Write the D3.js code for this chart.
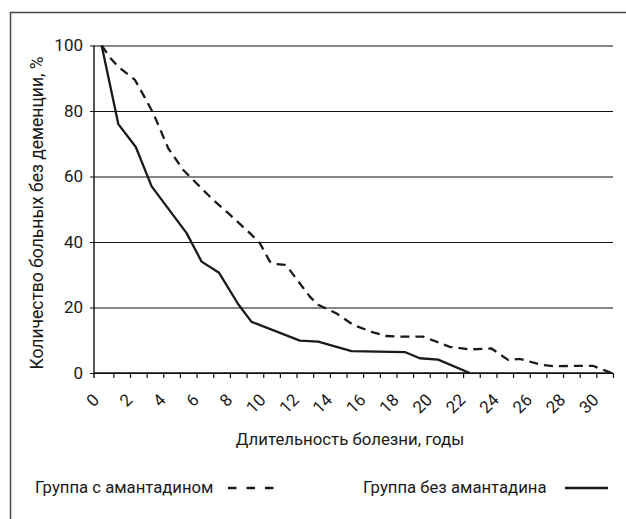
<!DOCTYPE html>
<html>
<head>
<meta charset="utf-8">
<script src="https://cdn.jsdelivr.net/npm/d3@7"></script>
<style>
  body { margin: 0; background: #fff; }
  svg text { font-family: Roboto, "Noto Sans", sans-serif; fill: #1a1a1a; }
</style>
</head>
<body>
<svg width="626" height="519"></svg>
<script>
// duration of illness, years / share of patients without dementia, %
var xWith = [0.3, 0.85, 1.3, 2.3, 2.9, 3.4, 4.3, 5.2, 5.9, 6.9, 7.9, 9.2, 9.8, 10.4, 10.7, 11.3, 11.6,
             12.8, 13.3, 14.4, 15.4, 16.6, 17.4, 18.4, 19.6, 21.2, 22.4, 23.7, 24.7, 25.4, 26.8, 27.4,
             29.8, 30.7, 30.9];
var yWith = [100, 96, 93.5, 89.5, 84, 79.3, 68.6, 62, 58.4, 53.3, 48.8, 42.7, 39.6, 34, 33.3, 33, 31.4,
             23.3, 20.8, 18.2, 14.7, 12.4, 11.3, 11.1, 11.1, 8.0, 7.2, 7.5, 4.0, 4.3, 2.4, 2.1,
             2.2, 0.4, 0];

var xWithout = [0.3, 1.3, 2.35, 3.3, 5.4, 6.3, 7.35, 8.5, 9.3, 12.2, 13.3, 15.3, 18.5, 19.4, 20.5, 22.4];
var yWithout = [100, 76, 69, 57, 42.7, 34, 30.6, 21, 15.6, 9.9, 9.6, 6.7, 6.4, 4.5, 4.1, 0];

var yTicks = [0, 20, 40, 60, 80, 100];
var xLabels = d3.range(0, 31, 2);
var xMinor = d3.range(1, 32);

var legendWith = "Группа с амантадином";
var legendWithout = "Группа без амантадина";
var xTitle = "Длительность болезни, годы";
var yTitle = "Количество больных без деменции, %";

var svg = d3.select("svg");

var plotLeft = 94, plotRight = 613, plotTop = 45.5, plotBottom = 373;

var x = d3.scaleLinear().domain([-0.16, 31]).range([plotLeft, plotRight]);
var y = d3.scaleLinear().domain([0, 100]).range([plotBottom, plotTop]);

// outer frame, cut off by the page on the right and bottom
svg.append("rect")
    .attr("x", 10.5)
    .attr("y", 12.5)
    .attr("width", 700)
    .attr("height", 600)
    .attr("fill", "none")
    .attr("stroke", "#444")
    .attr("stroke-width", 1.5);

// horizontal grid with the y ticks
svg.append("g")
    .attr("transform", "translate(" + plotLeft + ",0)")
    .call(d3.axisLeft(y).tickValues(yTicks).tickSize(-(plotRight - plotLeft)).tickSizeOuter(0).tickPadding(11))
    .call(function(g) { g.select(".domain").remove(); })
    .call(function(g) {
      g.selectAll(".tick line").attr("x1", -4).attr("stroke", "#111").attr("stroke-width", 1.2);
      g.selectAll(".tick text").style("font-size", "17px").attr("fill", "#1a1a1a")
        .style("font-family", "Roboto, sans-serif");
    });

// y axis line
svg.append("line")
    .attr("x1", plotLeft).attr("x2", plotLeft)
    .attr("y1", plotTop).attr("y2", plotBottom + 5)
    .attr("stroke", "#111").attr("stroke-width", 1.4);

// x axis with minor ticks
svg.append("g")
    .attr("transform", "translate(0," + plotBottom + ")")
    .call(d3.axisBottom(x).tickValues(xMinor).tickSize(5).tickSizeOuter(0).tickFormat(""))
    .call(function(g) {
      g.select(".domain").attr("stroke", "#111").attr("stroke-width", 1.4)
        .attr("d", "M" + plotLeft + ",0H" + plotRight);
      g.selectAll(".tick line").attr("stroke", "#111").attr("stroke-width", 1.2);
    });

svg.append("g")
  .selectAll("text")
  .data(xLabels)
  .enter().append("text")
    .attr("transform", function(d) { return "translate(" + (x(d) + 3.5) + ",401) rotate(-45)"; })
    .attr("text-anchor", "end")
    .style("font-size", "17px")
    .text(function(d) { return d; });

// curves
var line = d3.line()
    .x(function(d) { return x(d[0]); })
    .y(function(d) { return y(d[1]); });

svg.append("path")
    .datum(d3.zip(xWithout, yWithout))
    .attr("d", line)
    .attr("fill", "none")
    .attr("stroke", "#1a1a1a")
    .attr("stroke-width", 2.3)
    .attr("stroke-linejoin", "round");

svg.append("path")
    .datum(d3.zip(xWith, yWith))
    .attr("d", line)
    .attr("fill", "none")
    .attr("stroke", "#1a1a1a")
    .attr("stroke-width", 2.3)
    .attr("stroke-dasharray", "9,6");

// axis titles
svg.append("text")
    .attr("x", 350)
    .attr("y", 445)
    .attr("text-anchor", "middle")
    .style("font-size", "16.8px")
    .text(xTitle);

svg.append("text")
    .attr("transform", "translate(43,213) rotate(-90)")
    .attr("text-anchor", "middle")
    .style("font-size", "17.5px")
    .text(yTitle);

// legend
svg.append("text")
    .attr("x", 35)
    .attr("y", 493)
    .style("font-size", "16.7px")
    .text(legendWith);

svg.append("line")
    .attr("x1", 228).attr("x2", 274)
    .attr("y1", 488).attr("y2", 488)
    .attr("stroke", "#1a1a1a")
    .attr("stroke-width", 2.3)
    .attr("stroke-dasharray", "8.5,10");

svg.append("text")
    .attr("x", 363)
    .attr("y", 493)
    .style("font-size", "16.7px")
    .text(legendWithout);

svg.append("line")
    .attr("x1", 565).attr("x2", 608)
    .attr("y1", 488).attr("y2", 488)
    .attr("stroke", "#1a1a1a")
    .attr("stroke-width", 2.3);
</script>
</body>
</html>
